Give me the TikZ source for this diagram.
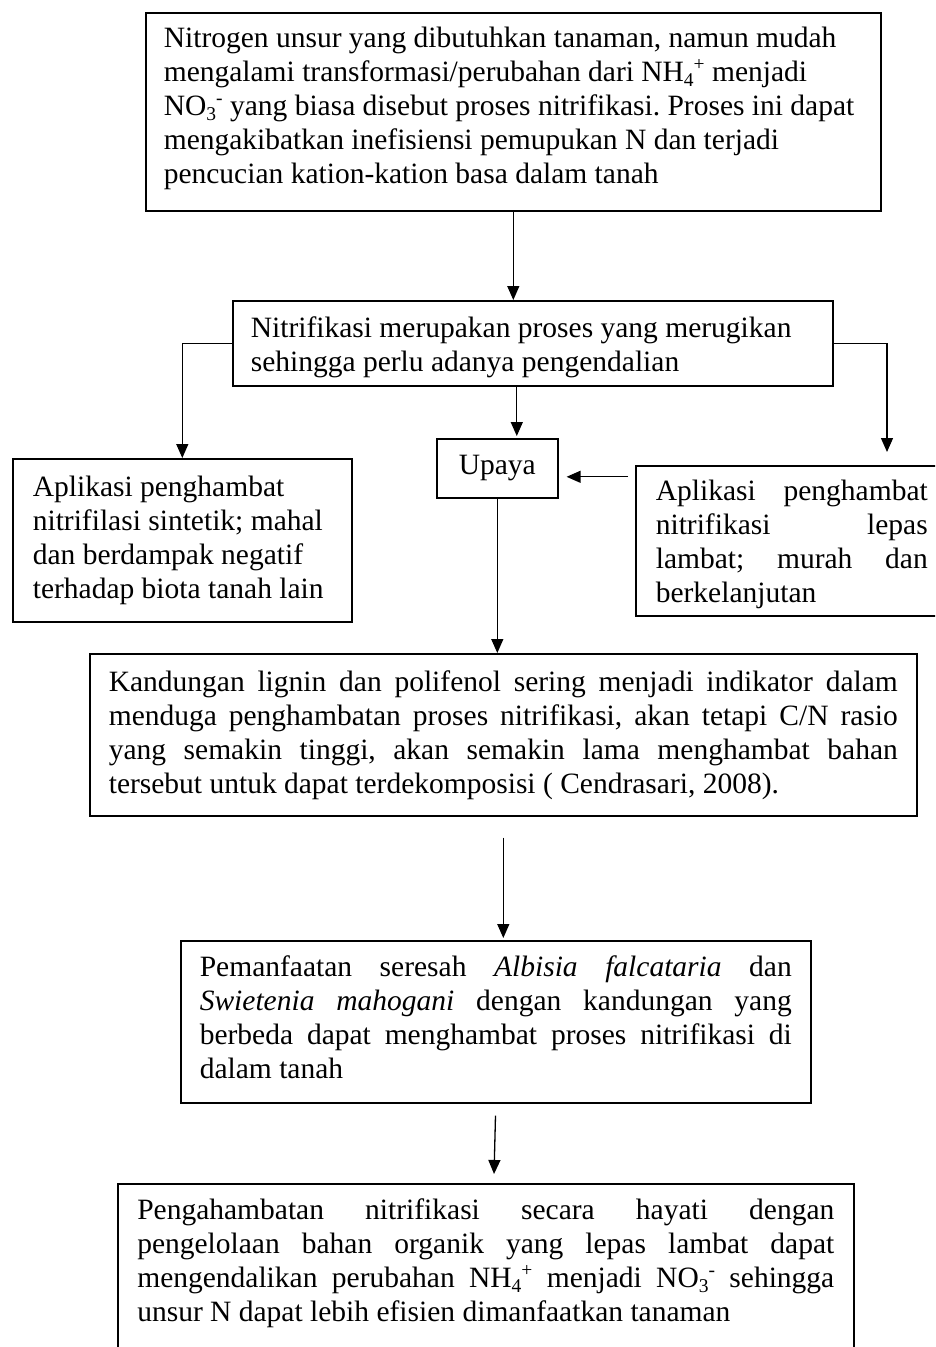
\documentclass[tikz,border=0pt]{standalone}
\usepackage{fontspec}
\setmainfont{Liberation Serif}
\usetikzlibrary{arrows.meta}
\newcommand\mysub[1]{\raisebox{-5pt}{\fontsize{19.5}{19.5}\selectfont #1}}
\newcommand\mysup[1]{\raisebox{11pt}{\fontsize{19.5}{19.5}\selectfont #1}}
\newcommand\jline[1]{\makebox[\hsize][s]{#1}}
\tikzset{
 box/.style={draw, line width=1.6pt, anchor=north west, inner xsep=19pt, inner ysep=6pt, align=left,
   font=\fontsize{29.5}{34}\selectfont,
   execute at begin node={\spaceskip=0pt\relax\xspaceskip=0pt\relax\frenchspacing\hyphenpenalty=10000\relax}},
 arr/.style={line width=1.3pt, -{Triangle[width=12pt,length=14pt]}},
}
\begin{document}
\begin{tikzpicture}[x=1pt,y=-1pt]
\useasboundingbox (0,0) rectangle (935,1347);
\clip (0,0) rectangle (935,1347);
\fill[white] (0,0) rectangle (935,1347);

\node[box, minimum width=735pt, minimum height=198pt, text width=699pt, inner xsep=18pt] (b1) at (145,12)
 {Nitrogen unsur yang dibutuhkan tanaman, namun mudah\\
  mengalami transformasi/perubahan dari NH\mysub{4}\mysup{+} menjadi\\
  NO\mysub{3}\mysup{-} yang biasa disebut proses nitrifikasi. Proses ini dapat\\
  mengakibatkan inefisiensi pemupukan N dan terjadi\\
  pencucian kation-kation basa dalam tanah\rule[-12.4pt]{0pt}{12.4pt}};

\node[box, minimum width=600pt, minimum height=85pt, text width=564pt, inner xsep=18pt] (b2) at (232,300)
 {\rule{0pt}{28.5pt}Nitrifikasi merupakan proses yang merugikan\\
  sehingga perlu adanya pengendalian};

\node[box, minimum width=121pt, minimum height=59pt, inner xsep=0pt, text width=121pt, align=center] (up) at (436,438) {Upaya};

\node[box, minimum width=339pt, minimum height=163pt, text width=299pt, inner xsep=20pt] (bl) at (12,458)
 {Aplikasi penghambat\\
  nitrifilasi sintetik; mahal\\
  dan berdampak negatif\\
  terhadap biota tanah lain};

\node[box, minimum width=312pt, minimum height=150pt, text width=272pt, inner xsep=20pt] (br) at (635,465)
 {\jline{\rule{0pt}{27pt}Aplikasi penghambat}\\
  \jline{nitrifikasi lepas}\\
  \jline{lambat; murah dan}\\
  berkelanjutan};

\node[box, minimum width=827pt, minimum height=162pt, text width=789pt, inner xsep=19pt] (b5) at (89,653)
 {\jline{Kandungan lignin dan polifenol sering menjadi indikator dalam}\\
  \jline{menduga penghambatan proses nitrifikasi, akan tetapi C/N rasio}\\
  \jline{yang semakin tinggi, akan semakin lama menghambat bahan}\\
  tersebut untuk dapat terdekomposisi ( Cendrasari, 2008).};

\node[box, minimum width=630pt, minimum height=162pt, text width=592pt, inner xsep=19pt] (b6) at (180,940)
 {\jline{Pemanfaatan seresah \textit{Albisia falcataria} dan}\\
  \jline{\textit{Swietenia mahogani} dengan kandungan yang}\\
  \jline{berbeda dapat menghambat proses nitrifikasi di}\\
  dalam tanah\rule[-9pt]{0pt}{9pt}};

\node[box, minimum width=736pt, text width=697pt, inner xsep=19.5pt, inner ysep=15pt] (b7) at (117,1183)
 {\jline{Pengahambatan nitrifikasi secara hayati dengan}\\
  \jline{pengelolaan bahan organik yang lepas lambat dapat}\\
  \jline{mengendalikan perubahan NH\mysub{4}\mysup{+} menjadi NO\mysub{3}\mysup{-} sehingga}\\
  unsur N dapat lebih efisien dimanfaatkan tanaman\\[60pt]\mbox{}};

\coordinate (ua) at ([yshift=-8.5pt]up.east);

\draw[arr] (b1.south) -- (b1.south |- b2.north);
\draw[arr, shorten >=2pt] ([xshift=-16pt]b2.south) -- ([xshift=-16pt]b2.south |- up.north);
\draw[arr] (b2.west) -| (bl.north);
\draw[arr, shorten >=13pt] (b2.east) -| ([xshift=252pt]br.north west);
\draw[arr, shorten <=7pt, shorten >=8pt] (ua -| br.west) -- (ua);
\draw[arr] (up.south) -- (up.south |- b5.north);
\draw[arr, shorten <=21pt, shorten >=2pt] (b5.south) -- (b5.south |- b6.north);
\draw[arr, shorten <=12pt, shorten >=9pt] (b6.south) -- ([xshift=8pt]b7.north);
\end{tikzpicture}
\end{document}
